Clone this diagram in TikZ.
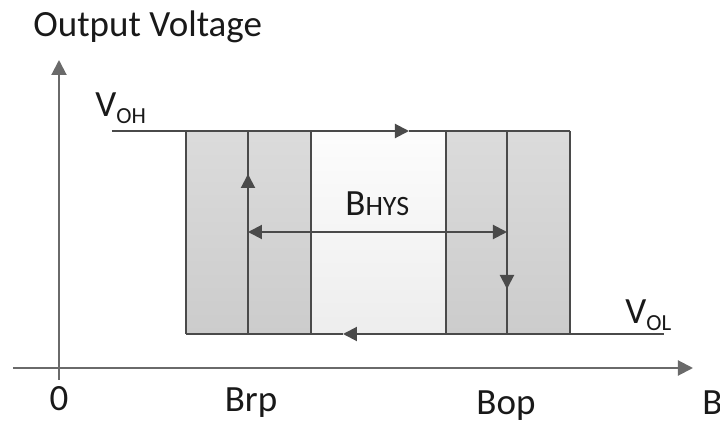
\documentclass[tikz,border=0pt]{standalone}
\usepackage{fontspec}
\setmainfont{Carlito}
\usetikzlibrary{arrows.meta}
\definecolor{axisgray}{HTML}{6A6A6A}
\definecolor{linegray}{HTML}{4A4A4A}
\tikzset{axis/.style = {draw = axisgray, line width = 1pt, -{Triangle[length = 7.5pt, width = 7.5pt]}}}
\tikzset{border/.style = {draw = linegray, line width = 1pt}}
\tikzset{flow/.style = {border, -{Triangle[length = 7pt, width = 7pt]}}}
\tikzset{span/.style = {border, {Triangle[length = 7pt, width = 7pt]}-{Triangle[length = 7pt, width = 7pt]}}}
\tikzset{outerband/.style = {top color = black!14, bottom color = black!20}}
\tikzset{innerband/.style = {top color = black!1, bottom color = black!7}}
\tikzset{tag/.style = {font = \fontsize{18.5}{22}\selectfont, text = black!90, inner sep = 0pt}}
\newcommand{\lowsub}[1]{\raisebox{-3.5pt}{\fontsize{11.5}{13}\selectfont #1}}
\newcommand{\smallcaps}[1]{{\fontsize{14}{16}\selectfont #1}}

\begin{document}
\begin{tikzpicture}[x = 0.5pt, y = -0.5pt]
	\useasboundingbox (0, 0) rectangle (720, 423);

	\shade[outerband] (186, 131) rectangle (311, 334);
	\shade[innerband] (311, 131) rectangle (446, 334);
	\shade[outerband] (446, 131) rectangle (570, 334);
	\foreach \x in {186, 248, 311, 446, 507, 570}
		\draw[border] (\x, 131) -- (\x, 334);

	\coordinate (ybot) at (59, 380);
	\coordinate (ytop) at (59, 60);
	\coordinate (xleft) at (13, 368);
	\coordinate (xright) at (693, 368);
	\coordinate (voh) at (112, 131);
	\coordinate (toparrow) at (409, 131);
	\coordinate (tr) at (570, 131);
	\coordinate (vol) at (664, 334);
	\coordinate (botarrow) at (343, 334);
	\coordinate (bl) at (186, 334);
	\coordinate (rpb) at (248, 334);
	\coordinate (uparrow) at (248, 174);
	\coordinate (opt) at (507, 131);
	\coordinate (downarrow) at (507, 289);
	\coordinate (hysl) at (248, 232);
	\coordinate (hysr) at (507, 232);

	\draw[flow] (voh) -- (toparrow);
	\draw[border] (toparrow) -- (tr);
	\draw[flow] (vol) -- (botarrow);
	\draw[border] (botarrow) -- (bl);
	\draw[flow] (rpb) -- (uparrow);
	\draw[flow] (opt) -- (downarrow);
	\draw[span] (hysl) -- (hysr);

	\draw[axis] (ybot) -- (ytop);
	\draw[axis] (xleft) -- (xright);

	\node[tag, anchor = base west] (ylabel) at (33, 37) {Output Voltage};
	\node[tag, anchor = base west] (vohlabel) at (95, 117) {V\lowsub{OH}};
	\node[tag, anchor = base west] (vollabel) at (625, 323) {V\lowsub{OL}};
	\node[tag, anchor = base west] (hyslabel) at (345, 215) {B\smallcaps{HYS}};
	\node[tag, anchor = base] (zero) at (59, 411) {0};
	\node[tag, anchor = base] (brp) at (251, 412) {Brp};
	\node[tag, anchor = base] (bop) at (506, 415) {Bop};
	\node[tag, anchor = base west] (bfield) at (702, 415) {B};
\end{tikzpicture}
\end{document}
